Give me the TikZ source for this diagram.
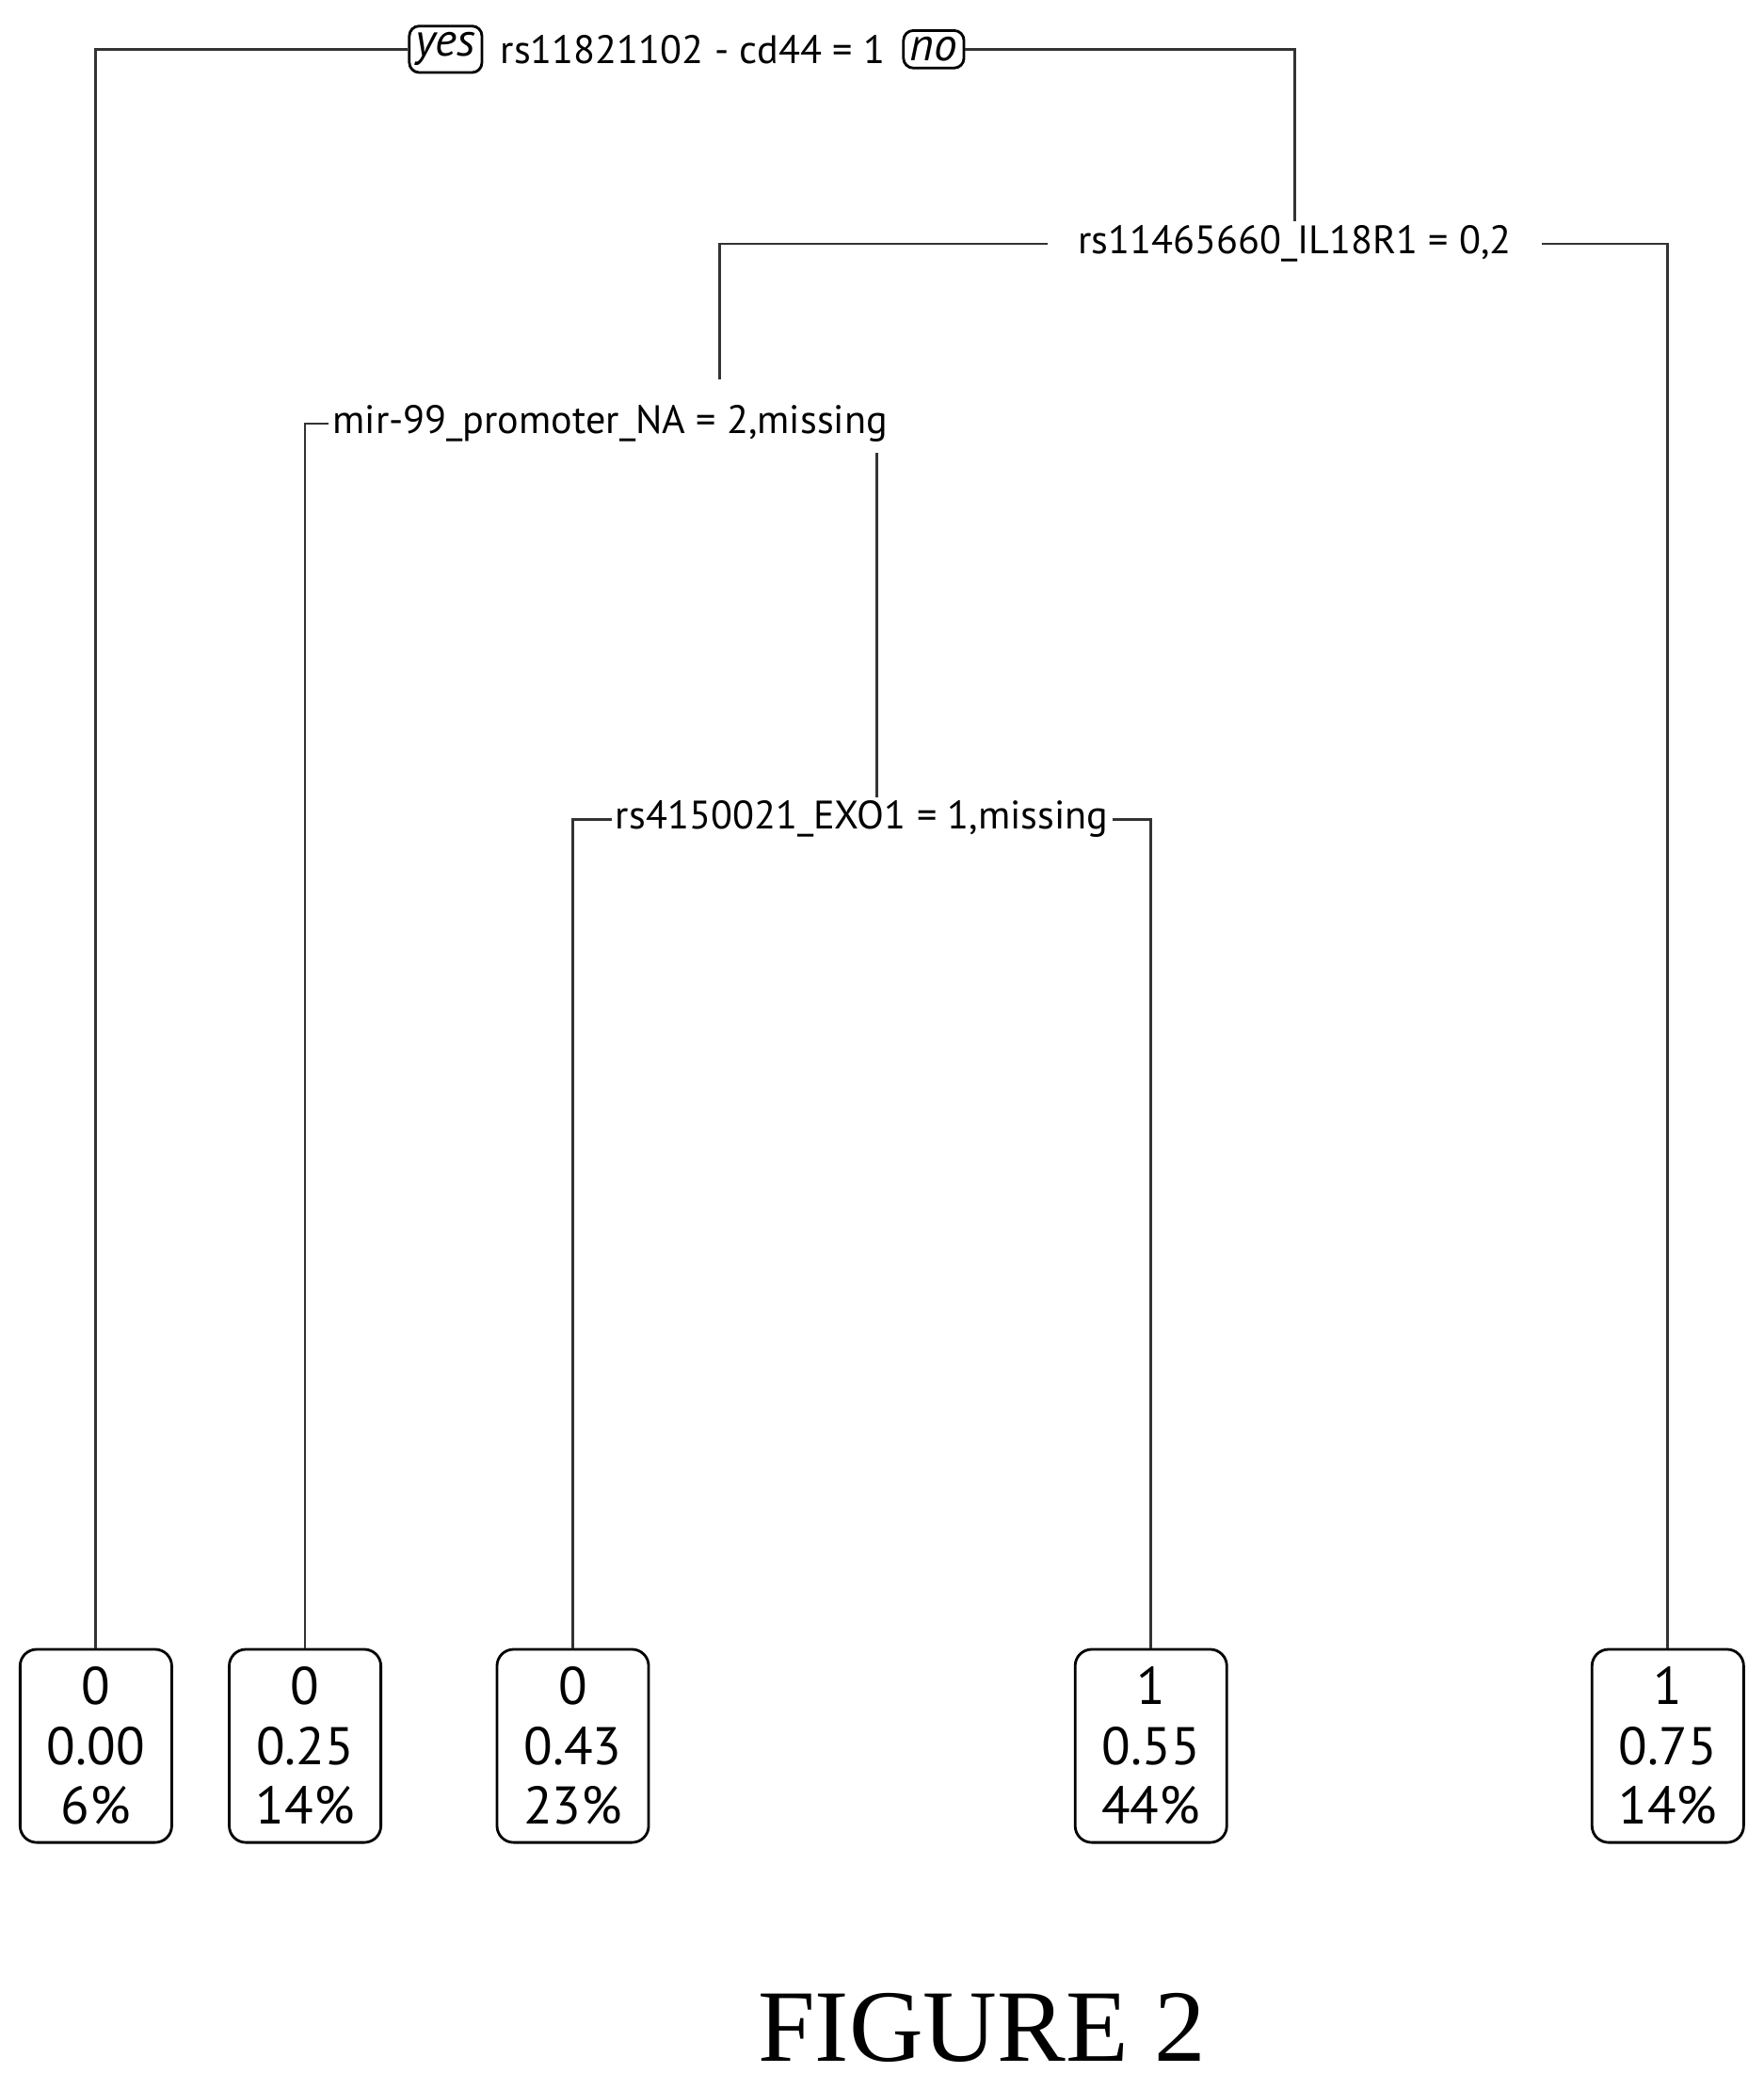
\documentclass[tikz,border=0pt]{standalone}
\usepackage{fontspec}
\setmainfont{Liberation Serif}
\newfontfamily\treefont{PT Sans}
\usetikzlibrary{positioning}

\begin{document}
\begin{tikzpicture}[
    x=0.01415cm, y=-0.01415cm,
    edge/.style={thick, gray!40!black},
    split/.style={font=\treefont\fontsize{12}{14}\selectfont, inner sep=1pt},
    tag/.style={split, draw, thick, rounded corners=3pt, font=\treefont\itshape\fontsize{14}{16}\selectfont, inner sep=2pt},
    leaf/.style={draw, thick, rounded corners=5pt, minimum width=1.61cm, minimum height=2.05cm,
        align=center, font=\treefont\fontsize{16}{18}\selectfont, anchor=north}
]
    \useasboundingbox (0,0) rectangle (1324,1568);

    % === Splits ===
    \node[split] (root) at (520,37) {rs11821102 - cd44 = 1};
    \node[tag, left=4pt of root] (yes) {yes};
    \node[tag, right=4pt of root] (no) {no};
    \node[split] (il18) at (972,183) {rs11465660\_IL18R1 = 0,2};
    \node[split] (mir) at (458,318) {mir-99\_promoter\_NA = 2,missing};
    \node[split] (exo) at (647,615) {rs4150021\_EXO1 = 1,missing};
    \coordinate (mirtop) at (540,285);
    \coordinate (mirbot) at (658,340);

    % === Leaves ===
    \node[leaf] (l1) at (72,1237) {0\\0.00\\6\%};
    \node[leaf] (l2) at (229,1237) {0\\0.25\\14\%};
    \node[leaf] (l3) at (430,1237) {0\\0.43\\23\%};
    \node[leaf] (l4) at (864,1237) {1\\0.55\\44\%};
    \node[leaf] (l5) at (1252,1237) {1\\0.75\\14\%};

    % === Edges ===
    \draw[edge] (yes.west) -| (l1.north);
    \draw[edge] (no.east) -| (il18.north);
    \draw[edge] ([xshift=-8pt]il18.west) -| (mirtop);
    \draw[edge] ([xshift=8pt]il18.east) -| (l5.north);
    \draw[edge] (mir.west) -| (l2.north);
    \draw[edge] (mirbot) -- (mirbot |- exo.north);
    \draw[edge] (exo.west) -| (l3.north);
    \draw[edge] (exo.east) -| (l4.north);

    \node[font=\fontsize{31}{36}\selectfont] (fig) at (737,1522) {FIGURE 2};
\end{tikzpicture}
\end{document}
